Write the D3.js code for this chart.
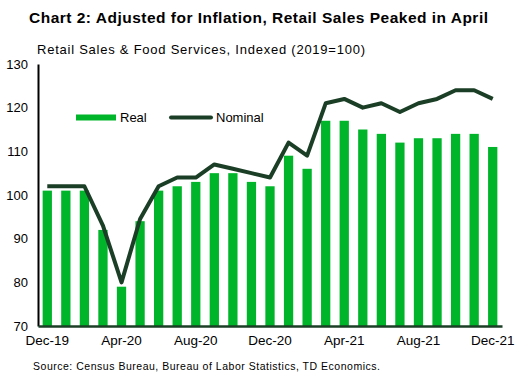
<!DOCTYPE html>
<html>
<head>
<meta charset="utf-8">
<script src="https://cdn.jsdelivr.net/npm/d3@7"></script>
<style>
  body { margin: 0; background: #fff; }
  svg { font-family: Arial, "Liberation Sans", sans-serif; }
</style>
</head>
<body>
<svg id="chart" width="517" height="386"></svg>
<script>
let width = 517, height = 386;

// monthly, Dec-19 .. Dec-21
let months = ["Dec-19","Jan-20","Feb-20","Mar-20","Apr-20","May-20","Jun-20","Jul-20","Aug-20","Sep-20","Oct-20","Nov-20",
              "Dec-20","Jan-21","Feb-21","Mar-21","Apr-21","May-21","Jun-21","Jul-21","Aug-21","Sep-21","Oct-21","Nov-21","Dec-21"];
let real    = [101,101,101,92,79,94,101,102,103,105,105,103,102,109,106,117,117,115,114,112,113,113,114,114,111];
let nominal = [102,102,102,93,80,94.5,102,104,104,107,106,105,104,112,109,121,122,120,121,119,121,122,124,124,122];
let yTicks = [70,80,90,100,110,120,130];
let xLabels = ["Dec-19","Apr-20","Aug-20","Dec-20","Apr-21","Aug-21","Dec-21"];

let barColor = "#00b52a", lineColor = "#1b3f26";
let margin = {left: 38, right: 15, top: 64, bottom: 60};

var svg = d3.select('#chart');

var x = d3.scaleBand()
    .domain(months)
    .range([margin.left, width - margin.right])
    .paddingInner(0.5)
    .paddingOuter(0.25);

var y = d3.scaleLinear()
    .domain([70, 130])
    .range([height - margin.bottom, margin.top]);

// title + subtitle (Excel spaces its text wider, so stretch to the same length)
svg.append('text')
    .attr('x', 29).attr('y', 23)
    .attr('font-size', 15.5).attr('font-weight', 'bold')
    .attr('textLength', 459).attr('lengthAdjust', 'spacing')
    .text("Chart 2: Adjusted for Inflation, Retail Sales Peaked in April");

svg.append('text')
    .attr('x', 37).attr('y', 54)
    .attr('font-size', 13)
    .attr('textLength', 328).attr('lengthAdjust', 'spacing')
    .text("Retail Sales & Food Services, Indexed (2019=100)");

// bars
svg.append('g')
    .selectAll('rect')
    .data(real)
    .enter().append('rect')
    .attr('x', (d, i) => x(months[i]))
    .attr('width', x.bandwidth())
    .attr('y', (d) => y(d))
    .attr('height', (d) => y(70) - y(d))
    .attr('fill', barColor);

// nominal line
var line = d3.line()
    .x((d, i) => x(months[i]) + x.bandwidth() / 2)
    .y((d) => y(d));

svg.append('path')
    .datum(nominal)
    .attr('d', line)
    .attr('fill', 'none')
    .attr('stroke', lineColor)
    .attr('stroke-width', 4)
    .attr('stroke-linejoin', 'round');

// y axis
var yAxis = svg.append('g')
    .attr('transform', 'translate(' + margin.left + ',0)')
    .call(d3.axisLeft(y).tickValues(yTicks).tickSize(0).tickPadding(10));
yAxis.select('.domain').attr('stroke', '#000').attr('stroke-width', 2);
yAxis.selectAll('text').attr('font-size', 13).attr('fill', '#000')
    .attr('font-family', 'Arial, "Liberation Sans", sans-serif');

// x axis
var xAxis = svg.append('g')
    .attr('transform', 'translate(0,' + y(70) + ')')
    .call(d3.axisBottom(x).tickValues(xLabels).tickSize(0).tickPadding(9));
xAxis.select('.domain').attr('stroke', lineColor).attr('stroke-width', 2.5);
xAxis.selectAll('text').attr('font-size', 13.5).attr('fill', '#000')
    .attr('font-family', 'Arial, "Liberation Sans", sans-serif');

// legend
var legend = svg.append('g');
legend.append('rect')
    .attr('x', 76).attr('y', 114.5).attr('width', 40).attr('height', 6)
    .attr('fill', barColor);
legend.append('text')
    .attr('x', 120).attr('y', 122).attr('font-size', 13).text("Real");
legend.append('line')
    .attr('x1', 171).attr('x2', 211).attr('y1', 117.5).attr('y2', 117.5)
    .attr('stroke', lineColor).attr('stroke-width', 4).attr('stroke-linecap', 'round');
legend.append('text')
    .attr('x', 216).attr('y', 122).attr('font-size', 13).text("Nominal");

// source
svg.append('text')
    .attr('x', 33).attr('y', 370)
    .attr('font-size', 10.5)
    .attr('textLength', 347).attr('lengthAdjust', 'spacing')
    .text("Source: Census Bureau, Bureau of Labor Statistics, TD Economics.");
</script>
</body>
</html>
